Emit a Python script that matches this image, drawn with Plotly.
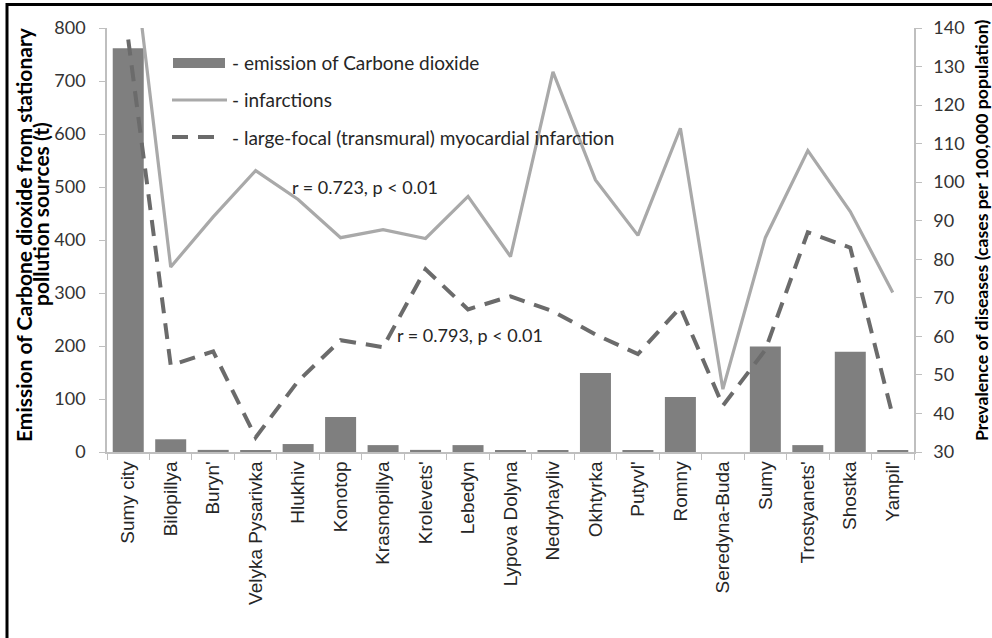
import plotly.graph_objects as go

categories = ["Sumy city", "Bilopillya", "Buryn'", "Velyka Pysarivka", "Hlukhiv", "Konotop",
              "Krasnopillya", "Krolevets'", "Lebedyn", "Lypova Dolyna", "Nedryhayliv", "Okhtyrka",
              "Putyvl'", "Romny", "Seredyna-Buda", "Sumy", "Trostyanets'", "Shostka", "Yampil'"]
emission = [762, 24, 4, 2, 15, 66, 13, 4, 13, 2, 2, 149, 2, 104, 0, 199, 13, 189, 2]
infarctions = [170, 78, 91, 103, 95.5, 85.6, 87.7, 85.4, 96.3, 80.7, 128.6, 100.6, 86.2, 114,
               46.3, 85.6, 108.2, 92.4, 71.4]
large_focal = [137, 52.5, 56.1, 33.8, 48.4, 59, 57.2, 77.4, 67, 70.4, 66.5, 60.5, 55.4, 67.5,
               42, 56.5, 87, 83, 39.3]

left_ticks = list(range(0, 801, 100))
right_ticks = list(range(30, 141, 10))

BAR = "#7f7f7f"
SOLID = "#a9a9a9"
DASH = "#6b6b6b"
AXIS = "#bfbfbf"
TXT = "#262626"
NUMFONT = "Lato"

fig = go.Figure()
fig.add_trace(go.Bar(x=categories, y=emission, marker=dict(color=BAR, line=dict(width=0)),
                     name="- emission of Carbone dioxide", yaxis="y"))
fig.add_trace(go.Scatter(x=categories, y=infarctions, mode="lines",
                         line=dict(color=SOLID, width=3.2), name="- infarctions", yaxis="y2"))
fig.add_trace(go.Scatter(x=categories, y=large_focal, mode="lines",
                         line=dict(color=DASH, width=4, dash="16px,10px"),
                         name="- large-focal (transmural) myocardial infarction", yaxis="y2"))

L, R, T, B = 107, 78, 28, 186
W, H = 992, 638
pw, ph = W - L - R, H - T - B


def px(x):
    return (x - L) / pw


def py(y):
    return (H - B - y) / ph


fig.update_layout(
    width=W, height=H, margin=dict(l=L, r=R, t=T, b=B),
    paper_bgcolor="white", plot_bgcolor="white", showlegend=False,
    bargap=0.27,
    xaxis=dict(type="category", tickangle=-90, ticks="outside", ticklen=6, tickcolor=AXIS,
               tickson="boundaries", showline=True, linecolor=AXIS, linewidth=1.5,
               showgrid=False, tickfont=dict(family="Liberation Sans", size=19, color=TXT)),
    yaxis=dict(range=[0, 800], tickvals=left_ticks, ticks="outside", ticklen=6, tickcolor=AXIS,
               ticklabelstandoff=10,
               showline=True, linecolor=AXIS, linewidth=1.5, showgrid=False, zeroline=False,
               tickfont=dict(family=NUMFONT, size=18, color="#333333")),
    yaxis2=dict(range=[30, 140], tickvals=right_ticks, overlaying="y", side="right",
                ticks="outside", ticklen=6, tickcolor=AXIS, ticklabelstandoff=8,
                showline=True, linecolor=AXIS,
                linewidth=1.5, showgrid=False, zeroline=False,
                tickfont=dict(family=NUMFONT, size=18, color="#333333")),
)

shapes = []
# frame (top and left)
shapes.append(dict(type="line", xref="paper", yref="paper", x0=px(6), x1=px(W), y0=py(4.5), y1=py(4.5),
                   line=dict(color="black", width=3)))
shapes.append(dict(type="line", xref="paper", yref="paper", x0=px(7), x1=px(7), y0=py(3), y1=py(H),
                   line=dict(color="black", width=3)))
# custom legend swatches
shapes.append(dict(type="rect", xref="paper", yref="paper", x0=px(173), x1=px(225), y0=py(68), y1=py(58),
                   fillcolor=BAR, line=dict(width=0)))
shapes.append(dict(type="line", xref="paper", yref="paper", x0=px(172), x1=px(227), y0=py(100), y1=py(100),
                   line=dict(color=SOLID, width=3.2)))
shapes.append(dict(type="line", xref="paper", yref="paper", x0=px(172), x1=px(215), y0=py(137), y1=py(137),
                   line=dict(color=DASH, width=4, dash="16px,10px")))
fig.update_layout(shapes=shapes)

ann = []
legend_txt = [("- emission of Carbone dioxide", 63), ("- infarctions", 100),
              ("- large-focal (transmural) myocardial infarction", 137)]
for t, y in legend_txt:
    ann.append(dict(text=t, xref="paper", yref="paper", x=px(230), y=py(y), xanchor="left",
                    yanchor="middle", showarrow=False, font=dict(family=NUMFONT, size=19, color=TXT)))
ann.append(dict(text="r = 0.723, p < 0.01", xref="paper", yref="paper", x=px(290), y=py(187),
                xanchor="left", yanchor="middle", showarrow=False,
                font=dict(family=NUMFONT, size=18, color=TXT)))
ann.append(dict(text="r = 0.793, p < 0.01", xref="paper", yref="paper", x=px(395), y=py(335),
                xanchor="left", yanchor="middle", showarrow=False,
                font=dict(family=NUMFONT, size=18, color=TXT)))
# axis titles
ann.append(dict(text="<b>Emission of Carbone dioxide from stationary</b>", xref="paper", yref="paper",
                x=px(23), y=py(235), xanchor="center", yanchor="middle", textangle=-90, showarrow=False,
                font=dict(family=NUMFONT, size=21, color="black")))
ann.append(dict(text="<b>pollution sources (t)</b>", xref="paper", yref="paper",
                x=px(41), y=py(214), xanchor="center", yanchor="middle", textangle=-90, showarrow=False,
                font=dict(family=NUMFONT, size=21, color="black")))
ann.append(dict(text="<b>Prevalence of diseases (cases per 100,000 population)</b>", xref="paper",
                yref="paper", x=px(981), y=py(231), xanchor="center", yanchor="middle", textangle=-90,
                showarrow=False, font=dict(family=NUMFONT, size=17.7, color="black")))
fig.update_layout(annotations=ann)

fig.write_html("out.html", config={"displayModeBar": False},
               post_script="document.body.style.margin='0';")
